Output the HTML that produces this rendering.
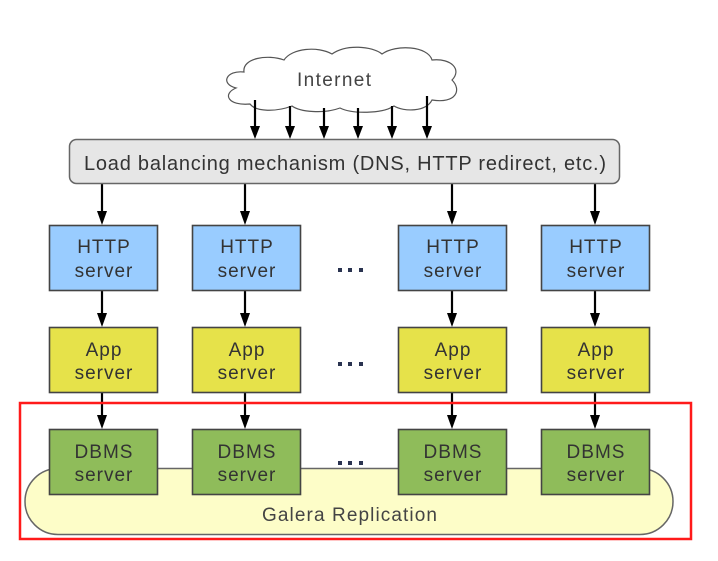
<!DOCTYPE html>
<html><head><style>html,body{margin:0;padding:0;background:#fff;}svg{display:block;}</style></head><body>
<svg width="718" height="561" viewBox="0 0 718 561" xmlns="http://www.w3.org/2000/svg" font-family="Liberation Sans, sans-serif">
<!-- cloud -->
<path d="M250,104 C228,106 222,94 236,88 C220,84 226,70 244,72 C242,58 268,54 284,60 C292,48 318,46 332,54 C346,44 372,46 382,54 C396,44 428,46 432,60 C452,58 462,70 452,80 C462,90 456,104 432,100 C426,112 404,112 394,106 C382,114 352,114 340,108 C324,114 300,112 292,106 C276,112 256,112 250,104 Z" fill="#fff" stroke="#555" stroke-width="1.2"/>
<text x="297" y="86" font-size="19" fill="#444" textLength="74" lengthAdjust="spacing">Internet</text>
<g stroke="#000" stroke-width="2.2">
<line x1="255" y1="100" x2="255" y2="128"/><line x1="290" y1="106" x2="290" y2="128"/><line x1="324" y1="108" x2="324" y2="128"/><line x1="358" y1="108" x2="358" y2="128"/><line x1="392" y1="106" x2="392" y2="128"/><line x1="427" y1="96" x2="427" y2="128"/>
<line x1="102" y1="184" x2="102" y2="212"/><line x1="245" y1="184" x2="245" y2="212"/><line x1="452" y1="184" x2="452" y2="212"/><line x1="595" y1="184" x2="595" y2="212"/>
<line x1="102" y1="290" x2="102" y2="314"/><line x1="245" y1="290" x2="245" y2="314"/><line x1="452" y1="290" x2="452" y2="314"/><line x1="595" y1="290" x2="595" y2="314"/>
<line x1="102" y1="392" x2="102" y2="416"/><line x1="245" y1="392" x2="245" y2="416"/><line x1="452" y1="392" x2="452" y2="416"/><line x1="595" y1="392" x2="595" y2="416"/>
</g>
<g fill="#000">
<path d="M250,126h10l-5,13z"/><path d="M285,126h10l-5,13z"/><path d="M319,126h10l-5,13z"/><path d="M353,126h10l-5,13z"/><path d="M387,126h10l-5,13z"/><path d="M422,126h10l-5,13z"/>
<path d="M97,211h10l-5,14z"/><path d="M240,211h10l-5,14z"/><path d="M447,211h10l-5,14z"/><path d="M590,211h10l-5,14z"/>
<path d="M97,313h10l-5,14z"/><path d="M240,313h10l-5,14z"/><path d="M447,313h10l-5,14z"/><path d="M590,313h10l-5,14z"/>
<path d="M97,415h10l-5,14z"/><path d="M240,415h10l-5,14z"/><path d="M447,415h10l-5,14z"/><path d="M590,415h10l-5,14z"/>
</g>
<rect x="69.5" y="139.5" width="550" height="44" rx="7" fill="#e6e6e6" stroke="#666" stroke-width="1.5"/>
<text x="84" y="170" font-size="20" fill="#333" textLength="522" lengthAdjust="spacing">Load balancing mechanism (DNS, HTTP redirect, etc.)</text>
<!-- pill -->
<path d="M58,468.5 H640 A33,33 0 0 1 640,534.5 H58 A33,33 0 0 1 58,468.5 Z" fill="#fdfdc8" stroke="#666" stroke-width="1.5"/>
<text x="262" y="521" font-size="19" fill="#444" textLength="175" lengthAdjust="spacing">Galera Replication</text>
<g stroke="#444" stroke-width="1.6">
<rect x="49.5" y="225.5" width="108" height="65" fill="#99ccff"/><rect x="192.5" y="225.5" width="108" height="65" fill="#99ccff"/><rect x="398.5" y="225.5" width="108" height="65" fill="#99ccff"/><rect x="541.5" y="225.5" width="108" height="65" fill="#99ccff"/>
<rect x="49.5" y="327.5" width="108" height="65" fill="#e6e24a"/><rect x="192.5" y="327.5" width="108" height="65" fill="#e6e24a"/><rect x="398.5" y="327.5" width="108" height="65" fill="#e6e24a"/><rect x="541.5" y="327.5" width="108" height="65" fill="#e6e24a"/>
<rect x="49.5" y="429.5" width="108" height="65" fill="#8fbc5a"/><rect x="192.5" y="429.5" width="108" height="65" fill="#8fbc5a"/><rect x="398.5" y="429.5" width="108" height="65" fill="#8fbc5a"/><rect x="541.5" y="429.5" width="108" height="65" fill="#8fbc5a"/>
</g>
<g font-size="19" fill="#333" text-anchor="middle" letter-spacing="1">
<text x="104" y="253">HTTP</text><text x="104" y="277">server</text>
<text x="247" y="253">HTTP</text><text x="247" y="277">server</text>
<text x="453" y="253">HTTP</text><text x="453" y="277">server</text>
<text x="596" y="253">HTTP</text><text x="596" y="277">server</text>
<text x="104" y="356">App</text><text x="104" y="379">server</text>
<text x="247" y="356">App</text><text x="247" y="379">server</text>
<text x="453" y="356">App</text><text x="453" y="379">server</text>
<text x="596" y="356">App</text><text x="596" y="379">server</text>
<text x="104" y="458">DBMS</text><text x="104" y="481">server</text>
<text x="247" y="458">DBMS</text><text x="247" y="481">server</text>
<text x="453" y="458">DBMS</text><text x="453" y="481">server</text>
<text x="596" y="458">DBMS</text><text x="596" y="481">server</text>
</g>
<g fill="#2a3350">
<rect x="338" y="268" width="4" height="4"/><rect x="348" y="268" width="4" height="4"/><rect x="359" y="268" width="4" height="4"/>
<rect x="338" y="362" width="4" height="4"/><rect x="348" y="362" width="4" height="4"/><rect x="359" y="362" width="4" height="4"/>
<rect x="338" y="461" width="4" height="4"/><rect x="348" y="461" width="4" height="4"/><rect x="359" y="461" width="4" height="4"/>
</g>
<rect x="20" y="403" width="671" height="136" fill="none" stroke="#ff1a1a" stroke-width="2.5"/>
</svg>
</body></html>
